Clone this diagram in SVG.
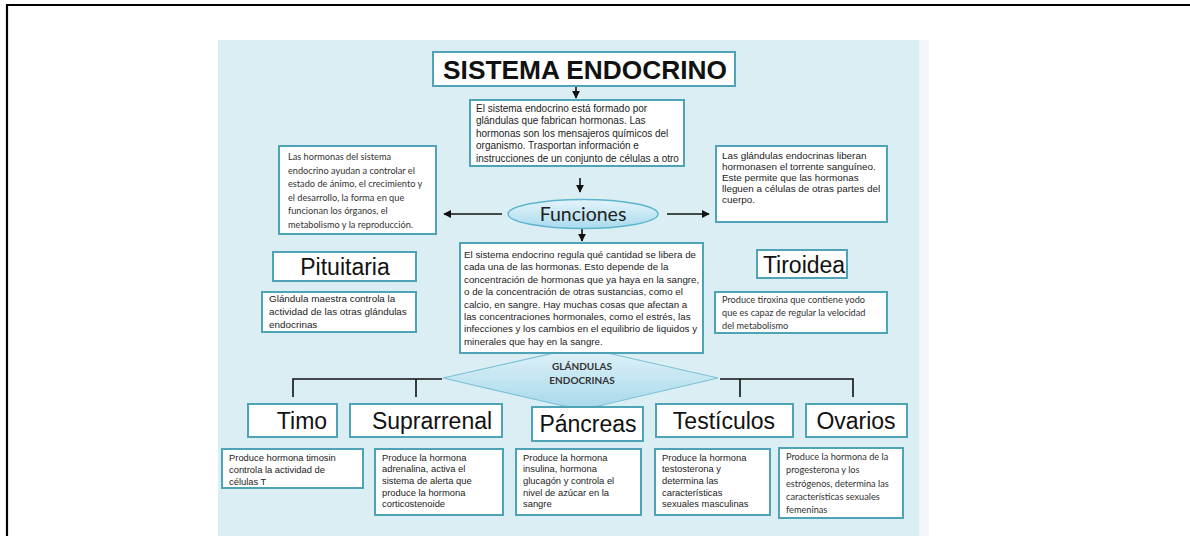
<svg xmlns="http://www.w3.org/2000/svg" width="1190" height="536" viewBox="0 0 1190 536">
<defs>
<style>
.box{fill:#fff;stroke:#4fa3b6;stroke-width:2}
.t{font-family:"Liberation Sans",Arial,sans-serif;font-size:10px;fill:#222}
.m{font-family:"Liberation Sans",Arial,sans-serif;font-size:9.75px;fill:#222}
.s{font-family:"Liberation Sans",Arial,sans-serif;font-size:9.4px;fill:#222}
.r{font-family:"Liberation Sans",Arial,sans-serif;font-size:9.9px;fill:#222}
.c{font-family:Lato,"Open Sans",sans-serif;font-size:9.2px;fill:#333}
.big{font-family:"Liberation Sans",Arial,sans-serif;font-size:23px;fill:#111;text-anchor:middle}
.ln{stroke:#111;stroke-width:1.6;fill:none}
.ar{stroke:#111;stroke-width:1.6;fill:none;marker-end:url(#ah)}
</style>
<marker id="ah" viewBox="0 0 10 10" refX="9" refY="5" markerWidth="5" markerHeight="5" orient="auto">
<path d="M0,0 L10,5 L0,10 z" fill="#111"/>
</marker>
<linearGradient id="eg" x1="0" y1="0" x2="0" y2="1">
<stop offset="0" stop-color="#e4f4fa"/>
<stop offset="1" stop-color="#a9dbee"/>
</linearGradient>
<linearGradient id="dg" x1="0" y1="0" x2="0" y2="1">
<stop offset="0" stop-color="#e2f3f9"/>
<stop offset="1" stop-color="#a6d8ea"/>
</linearGradient>
</defs>
<rect width="1190" height="536" fill="#fff"/>
<path d="M7,536 V5 H1190" fill="none" stroke="#000" stroke-width="2.2"/>
<rect x="218" y="40" width="701" height="496" fill="#daeef4"/>
<rect x="919" y="40" width="10" height="496" fill="#f3f5fb"/>

<g id="connectors">
<line class="ar" x1="576" y1="87" x2="576" y2="98"/>
<line class="ar" x1="580" y1="178" x2="580" y2="192"/>
<line class="ar" x1="582" y1="228" x2="582" y2="241"/>
<line class="ar" x1="502" y1="214" x2="444" y2="214"/>
<line class="ar" x1="667" y1="214" x2="709" y2="214"/>
<path class="ln" d="M293,397 V379 H442 M416,379 V397"/>
<path class="ln" d="M720,379 H853 V397 M740,379 V397"/>
</g>

<g id="glandulas">
<polygon points="443,378 581,347 718,378 581,410" fill="url(#dg)" stroke="#7cc2d6" stroke-width="1.2"/>
<text font-family="Lato,'Open Sans',sans-serif" font-size="10" font-weight="bold" fill="#333" text-anchor="middle"><tspan x="582" y="370">GLÁNDULAS</tspan><tspan x="582" y="384">ENDOCRINAS</tspan></text>
</g>

<g id="title">
<rect class="box" x="433" y="52" width="302" height="34" stroke-width="2.4"/>
<text x="585" y="79" font-family="'Liberation Sans',Arial,sans-serif" font-size="26.3" font-weight="bold" fill="#111" text-anchor="middle">SISTEMA ENDOCRINO</text>
</g>

<g id="intro">
<rect class="box" x="470" y="100" width="214" height="66"/>
<text class="t"><tspan x="476" y="111.5">El sistema endocrino está formado por</tspan><tspan x="476" y="124">glándulas que fabrican hormonas. Las</tspan><tspan x="476" y="136.5">hormonas son los mensajeros químicos del</tspan><tspan x="476" y="149">organismo. Trasportan información e</tspan><tspan x="476" y="161.5">instrucciones de un conjunto de células a otro</tspan></text>
</g>

<g id="izq">
<rect class="box" x="279" y="146" width="157" height="88"/>
<text class="c"><tspan x="288" y="160">Las hormonas del sistema</tspan><tspan x="288" y="173.6">endocrino ayudan a controlar el</tspan><tspan x="288" y="187.2">estado de ánimo, el crecimiento y</tspan><tspan x="288" y="200.8">el desarrollo, la forma en que</tspan><tspan x="288" y="214.4">funcionan los órganos, el</tspan><tspan x="288" y="228">metabolismo y la reproducción.</tspan></text>
</g>

<g id="der">
<rect class="box" x="716" y="146" width="171" height="76"/>
<text class="r"><tspan x="722" y="158.5">Las glándulas endocrinas liberan</tspan><tspan x="722" y="169.5">hormonasen el torrente sanguíneo.</tspan><tspan x="722" y="180.5">Este permite que las hormonas</tspan><tspan x="722" y="191.5">lleguen a células de otras partes del</tspan><tspan x="722" y="202.5">cuerpo.</tspan></text>
</g>

<g id="funciones">
<ellipse cx="583" cy="214" rx="75" ry="14.5" fill="url(#eg)" stroke="#5db4cd" stroke-width="1.4"/>
<text x="583" y="221" font-family="Lato,'Open Sans',sans-serif" font-size="19.5" fill="#222" text-anchor="middle">Funciones</text>
</g>

<g id="regula">
<rect class="box" x="460" y="243" width="243" height="110"/>
<text class="m"><tspan x="464" y="258">El sistema endocrino regula qué cantidad se libera de</tspan><tspan x="464" y="270.4">cada una de las hormonas. Esto depende de la</tspan><tspan x="464" y="282.8">concentración de hormonas que ya haya en la sangre,</tspan><tspan x="464" y="295.2">o de la concentración de otras sustancias, como el</tspan><tspan x="464" y="307.6">calcio, en sangre. Hay muchas cosas que afectan a</tspan><tspan x="464" y="320">las concentraciones hormonales, como el estrés, las</tspan><tspan x="464" y="332.4">infecciones y los cambios en el equilibrio de liquidos y</tspan><tspan x="464" y="344.8">minerales que hay en la sangre.</tspan></text>
</g>

<g id="pituitaria">
<rect class="box" x="273" y="252" width="143" height="29"/>
<text class="big" x="345" y="275">Pituitaria</text>
<rect class="box" x="262" y="292" width="154" height="40"/>
<text class="r"><tspan x="269" y="302">Glándula maestra controla la</tspan><tspan x="269" y="315">actividad de las otras glándulas</tspan><tspan x="269" y="328">endocrinas</tspan></text>
</g>

<g id="tiroidea">
<rect class="box" x="757" y="250" width="90" height="28"/>
<text class="big" x="804" y="273">Tiroidea</text>
<rect class="box" x="715" y="292" width="172" height="41"/>
<text class="c" font-size="9.7"><tspan x="722" y="303">Produce tiroxina que contiene yodo</tspan><tspan x="722" y="316">que es capaz de regular la velocidad</tspan><tspan x="722" y="329">del metabolismo</tspan></text>
</g>

<g id="timo">
<rect class="box" x="248" y="404" width="89" height="33"/>
<text class="big" x="302" y="429">Timo</text>
<rect class="box" x="222" y="449" width="141" height="39"/>
<text class="s"><tspan x="229" y="460.5">Produce hormona timosin</tspan><tspan x="229" y="472.5">controla la actividad de</tspan><tspan x="229" y="484.5">células T</tspan></text>
</g>

<g id="suprarrenal">
<rect class="box" x="350" y="404" width="152" height="33"/>
<text class="big" x="432" y="429">Suprarrenal</text>
<rect class="box" x="375" y="449" width="128" height="66"/>
<text class="s"><tspan x="382" y="460.5">Produce la hormona</tspan><tspan x="382" y="472.2">adrenalina, activa el</tspan><tspan x="382" y="483.9">sistema de alerta que</tspan><tspan x="382" y="495.6">produce la hormona</tspan><tspan x="382" y="507.3">corticostenoide</tspan></text>
</g>

<g id="pancreas">
<rect class="box" x="532" y="407" width="111" height="34"/>
<text class="big" x="588" y="432">Páncreas</text>
<rect class="box" x="516" y="449" width="125" height="66"/>
<text class="s"><tspan x="523" y="460.5">Produce la hormona</tspan><tspan x="523" y="472.2">insulina, hormona</tspan><tspan x="523" y="483.9">glucagón y controla el</tspan><tspan x="523" y="495.6">nivel de azúcar en la</tspan><tspan x="523" y="507.3">sangre</tspan></text>
</g>

<g id="testiculos">
<rect class="box" x="656" y="404" width="137" height="33"/>
<text class="big" x="724" y="429">Testículos</text>
<rect class="box" x="655" y="449" width="115" height="66"/>
<text class="s"><tspan x="662" y="460.5">Produce la hormona</tspan><tspan x="662" y="472.2">testosterona y</tspan><tspan x="662" y="483.9">determina las</tspan><tspan x="662" y="495.6">características</tspan><tspan x="662" y="507.3">sexuales masculinas</tspan></text>
</g>

<g id="ovarios">
<rect class="box" x="806" y="404" width="101" height="33"/>
<text class="big" x="856" y="429">Ovarios</text>
<rect class="box" x="779" y="448" width="124" height="70"/>
<text class="c"><tspan x="786" y="460">Produce la hormona de la</tspan><tspan x="786" y="473.3">progesterona y los</tspan><tspan x="786" y="486.6">estrógenos, determina las</tspan><tspan x="786" y="499.9">características sexuales</tspan><tspan x="786" y="513.2">femeninas</tspan></text>
</g>
</svg>
